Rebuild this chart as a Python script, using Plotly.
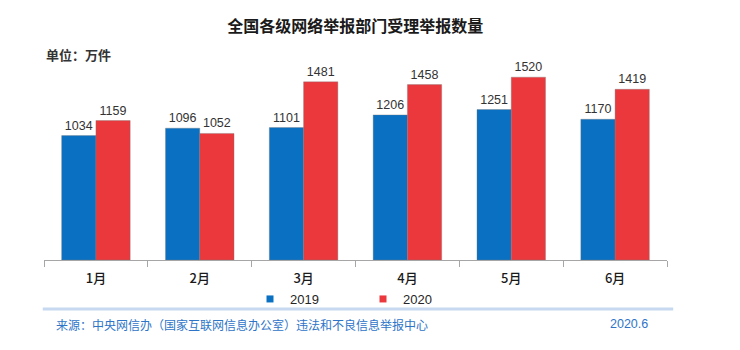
import plotly.graph_objects as go

months = ["1月", "2月", "3月", "4月", "5月", "6月"]
v2019 = [1034, 1096, 1101, 1206, 1251, 1170]
v2020 = [1159, 1052, 1481, 1458, 1520, 1419]
series_names = ["2019", "2020"]
colors = ["#0a70c2", "#ea383d"]

FONT = "Liberation Sans, Arial, Noto Sans CJK SC"

fig = go.Figure()
for name, vals, col in zip(series_names, [v2019, v2020], colors):
    fig.add_trace(go.Bar(
        x=months, y=vals, name=name, marker=dict(color=col, line=dict(color="rgba(120,120,120,0.35)", width=1)),
        text=[str(v) for v in vals], textposition="outside",
        textfont=dict(size=12.5, color="#333333", family=FONT),
        cliponaxis=False, showlegend=False,
    ))
    fig.add_trace(go.Scatter(
        x=[None], y=[None], mode="markers", name=name,
        marker=dict(symbol="square", size=7, color=col), showlegend=True,
    ))

fig.update_layout(
    width=740, height=350,
    margin=dict(l=44, r=73, t=65, b=90),
    paper_bgcolor="white", plot_bgcolor="white",
    barmode="group", bargap=0.34, bargroupgap=0.0,
    font=dict(family=FONT, color="#333333"),
    title=dict(text="<b>全国各级网络举报部门受理举报数量</b>", x=0.48, xanchor="center",
               y=0.925, yanchor="middle", font=dict(size=16, color="#1a1a1a", family="Noto Sans CJK SC")),
    xaxis=dict(type="category", showline=True, linecolor="#a6a6a6", linewidth=1,
               ticks="outside", tickson="boundaries", ticklen=6, tickcolor="#a6a6a6",
               ticklabelstandoff=6,
               tickfont=dict(size=13, color="#1a1a1a", family="Noto Sans CJK SC", weight=500), showgrid=False),
    yaxis=dict(range=[0, 1621], visible=False, showgrid=False),
    legend=dict(orientation="h", x=(250 - 44) / 623, xanchor="left", y=-0.2, yanchor="middle",
                bgcolor="rgba(0,0,0,0)",
                font=dict(size=13, color="#262626"), itemwidth=30, entrywidth=68,
                entrywidthmode="pixels"),
)

fig.add_annotation(text="<b>单位：万件</b>", xref="paper", yref="paper", x=0, xanchor="left",
                   y=(350 - 55 - 90) / 195, yanchor="middle", showarrow=False,
                   font=dict(size=13, color="#333333", family="Noto Sans CJK SC"))
fig.add_shape(type="line", xref="paper", yref="paper", x0=-0.002, x1=1.01,
              y0=(350 - 309 - 90) / 195, y1=(350 - 309 - 90) / 195,
              line=dict(color="#c6d9f0", width=3))
fig.add_annotation(text="来源：中央网信办（国家互联网信息办公室）违法和不良信息举报中心", xref="paper", yref="paper",
                   x=(54 - 44) / 623, xanchor="left", y=(350 - 324 - 90) / 195, yanchor="middle",
                   showarrow=False, font=dict(size=12, color="#2e75c8", family="Noto Sans CJK SC"))
fig.add_annotation(text="2020.6", xref="paper", yref="paper",
                   x=(608 - 44) / 623, xanchor="left", y=(350 - 324 - 90) / 195, yanchor="middle",
                   showarrow=False, font=dict(size=12.5, color="#2e75c8", family=FONT))

fig.write_html("out.html")
